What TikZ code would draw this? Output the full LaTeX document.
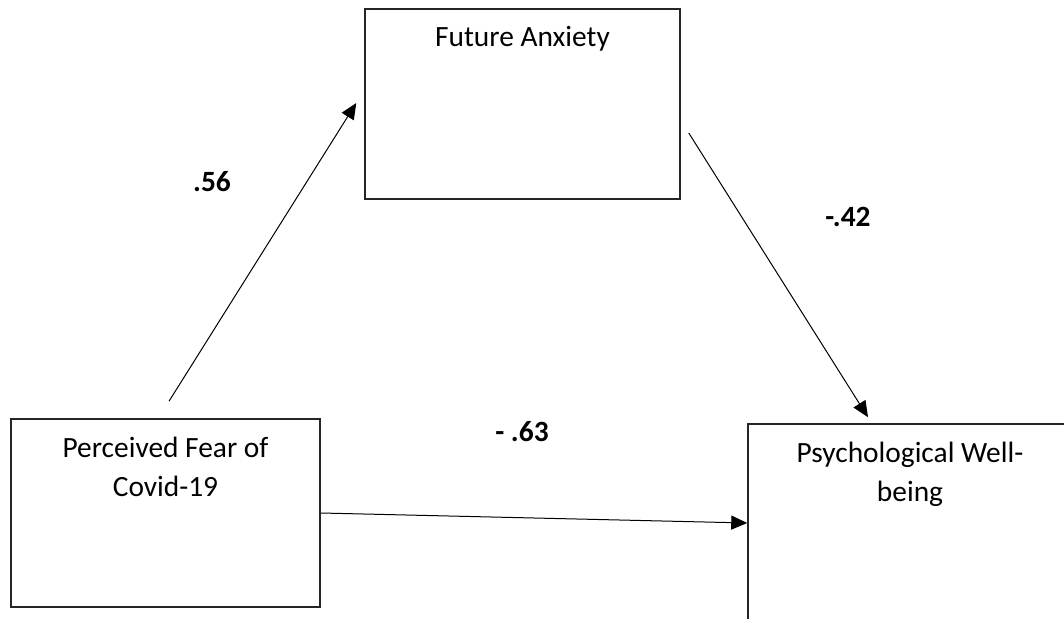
\documentclass[tikz,border=0pt]{standalone}
\usepackage{fontspec}
\setmainfont{Carlito}
\usetikzlibrary{calc}
\usetikzlibrary{arrows.meta}
\tikzset{
    box/.style={
            draw=black!85,
            line width=0.75pt,
            rectangle,
            inner sep=0pt, % empty box, text sits in a label
            minimum width={#1},
            minimum height=94pt
        },
    box/.default={154.5pt},
    boxtext/.style={
            anchor=north,
            align=center,
            inner sep=0pt,
            yshift=-9pt,
            font=\fontsize{14.7}{19.5}\selectfont
        },
    link/.style={
            line width=0.5pt,
            -{Triangle[length=8pt,width=7pt]}
        },
    coef/.style={
            font=\fontsize{14.7}{19.5}\selectfont\bfseries
        }
}

\begin{document}
\begin{tikzpicture}[
        x=0.5pt,
        y=-0.5pt,
    ]
    \useasboundingbox (0,0) rectangle (1064,619);
    \clip (0,0) rectangle (1064,619);
    % boxes
    \node[box=157.5pt, minimum height=95pt,
        label={[boxtext]north:Future Anxiety}] (fa) at (522.5,104) {};
    \node[box,
        label={[boxtext]north:Perceived Fear of\\Covid-19}] (pf) at (165.5,513) {};
    \node[box=162pt, minimum height=99pt,
        label={[boxtext]north:Psychological Well-\\being}] (pw) at (910,523) {};
    % paths
    \draw[link] ($(pf.north)+(3.5,-17)$) -- ($(fa.west)+(-8,-1)$);
    \draw[link] ($(fa.east)+(8,29)$) -- ($(pw.north)+(-42,-6)$);
    \draw[link] (pf.east) -- (pw.west);
    % coefficients
    \node[coef] (c56) at (212,182) {.56};
    \node[coef] (c42) at (848,217) {-.42};
    \node[coef] (c63) at (522,432) {- .63};
\end{tikzpicture}
\end{document}
